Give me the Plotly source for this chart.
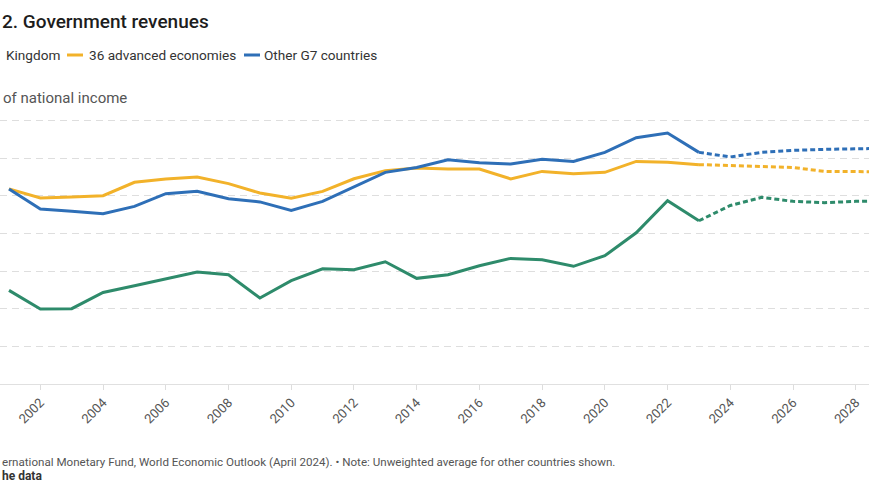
import plotly.graph_objects as go

years = list(range(2001, 2030))
uk = [34.97, 33.98, 34.00, 34.86, 35.22, 35.59, 35.95, 35.80, 34.57, 35.49,
      36.12, 36.07, 36.49, 35.61, 35.80, 36.28, 36.67, 36.60, 36.25, 36.81,
      38.03, 39.73, 38.67, 39.48, 39.91, 39.70, 39.63, 39.70, 39.72]
advanced = [40.36, 39.88, 39.93, 40.00, 40.71, 40.89, 40.99, 40.64, 40.14, 39.87,
            40.23, 40.90, 41.33, 41.47, 41.42, 41.42, 40.89, 41.29, 41.17, 41.24,
            41.82, 41.77, 41.65, 41.61, 41.56, 41.50, 41.29, 41.27, 41.27]
g7 = [40.36, 39.29, 39.17, 39.04, 39.43, 40.11, 40.23, 39.84, 39.67, 39.22,
      39.70, 40.48, 41.24, 41.50, 41.91, 41.75, 41.68, 41.93, 41.82, 42.30,
      43.08, 43.33, 42.30, 42.06, 42.30, 42.41, 42.46, 42.50, 42.52]
forecast_start = 2023

series = [
    ("United Kingdom", uk, "#2e8b6b"),
    ("36 advanced economies", advanced, "#f2b22a"),
    ("Other G7 countries", g7, "#2e6fb7"),
]
tick_years = list(range(2002, 2030, 2))

# visible text as shown in the (cropped) reference
title_text = "2. Government revenues"
legend_texts = ["Kingdom", "36 advanced economies", "Other G7 countries"]
ytitle_text = "of national income"
source_text = "ernational Monetary Fund, World Economic Outlook (April 2024). • Note: Unweighted average for other countries shown."
data_link_text = "he data"

W, H = 869, 504
ML, MR, MT, MB = 0, 0, 100, 120
PH = H - MT - MB
PX_PER_UNIT = 18.83
Y0 = 30
YMAX = Y0 + PH / PX_PER_UNIT
X0 = 2001 - 9 / 31.36
X1 = X0 + W / 31.36


def px(x):
    return x / W


def py(y):
    return (H - MB - y) / PH


fig = go.Figure()
k = years.index(forecast_start)
for name, vals, color in series:
    fig.add_trace(go.Scatter(x=years[:k + 1], y=vals[:k + 1], mode="lines", name=name,
                             line=dict(color=color, width=3), hoverinfo="skip", showlegend=False))
    fig.add_trace(go.Scatter(x=years[k:], y=vals[k:], mode="lines", name=name + " (forecast)",
                             line=dict(color=color, width=3, dash="5px,3px"), hoverinfo="skip",
                             showlegend=False))

font = "Roboto, Arial, sans-serif"
ann = []
ann.append(dict(text=title_text, x=px(0), y=py(21), xref="paper", yref="paper",
                xanchor="left", yanchor="middle", showarrow=False,
                font=dict(family=font, size=19, color="#1d1d1d", weight=500)))
for t, x0 in zip(legend_texts, [4, 87, 262]):
    ann.append(dict(text=t, x=px(x0), y=py(55), xref="paper", yref="paper",
                    xanchor="left", yanchor="middle", showarrow=False,
                    font=dict(family=font, size=13.6, color="#333333")))
ann.append(dict(text=ytitle_text, x=px(1), y=py(98), xref="paper", yref="paper",
                xanchor="left", yanchor="middle", showarrow=False,
                font=dict(family=font, size=15, color="#555555")))
ann.append(dict(text=source_text, x=px(0), y=py(462), xref="paper", yref="paper",
                xanchor="left", yanchor="middle", showarrow=False,
                font=dict(family=font, size=11.6, color="#555555")))
ann.append(dict(text="<b>" + data_link_text + "</b>", x=px(0), y=py(476), xref="paper", yref="paper",
                xanchor="left", yanchor="middle", showarrow=False,
                font=dict(family=font, size=12, color="#333333")))

shapes = []
for x0, c in [(67, "#f2b22a"), (244, "#2e6fb7")]:
    shapes.append(dict(type="line", xref="paper", yref="paper", x0=px(x0), x1=px(x0 + 16),
                       y0=py(55), y1=py(55), line=dict(color=c, width=3)))

fig.update_layout(
    width=W, height=H,
    margin=dict(l=ML, r=MR, t=MT, b=MB, pad=0),
    paper_bgcolor="white", plot_bgcolor="white",
    annotations=ann, shapes=shapes,
    xaxis=dict(range=[X0, X1], tickmode="array", tickvals=tick_years,
               ticktext=[str(y) for y in tick_years], tickangle=-45,
               ticks="outside", ticklen=5, tickcolor="#dddddd",
               showgrid=False, showline=True, linecolor="#e0e0e0", linewidth=1,
               tickfont=dict(family=font, size=13, color="#555555"), zeroline=False),
    yaxis=dict(range=[Y0, YMAX], dtick=2, tick0=30, showticklabels=False,
               showgrid=True, gridcolor="#dedede", griddash="7px,5px", gridwidth=1,
               zeroline=False, showline=False, ticks=""),
    showlegend=False,
)
fig.write_html("out.html")
